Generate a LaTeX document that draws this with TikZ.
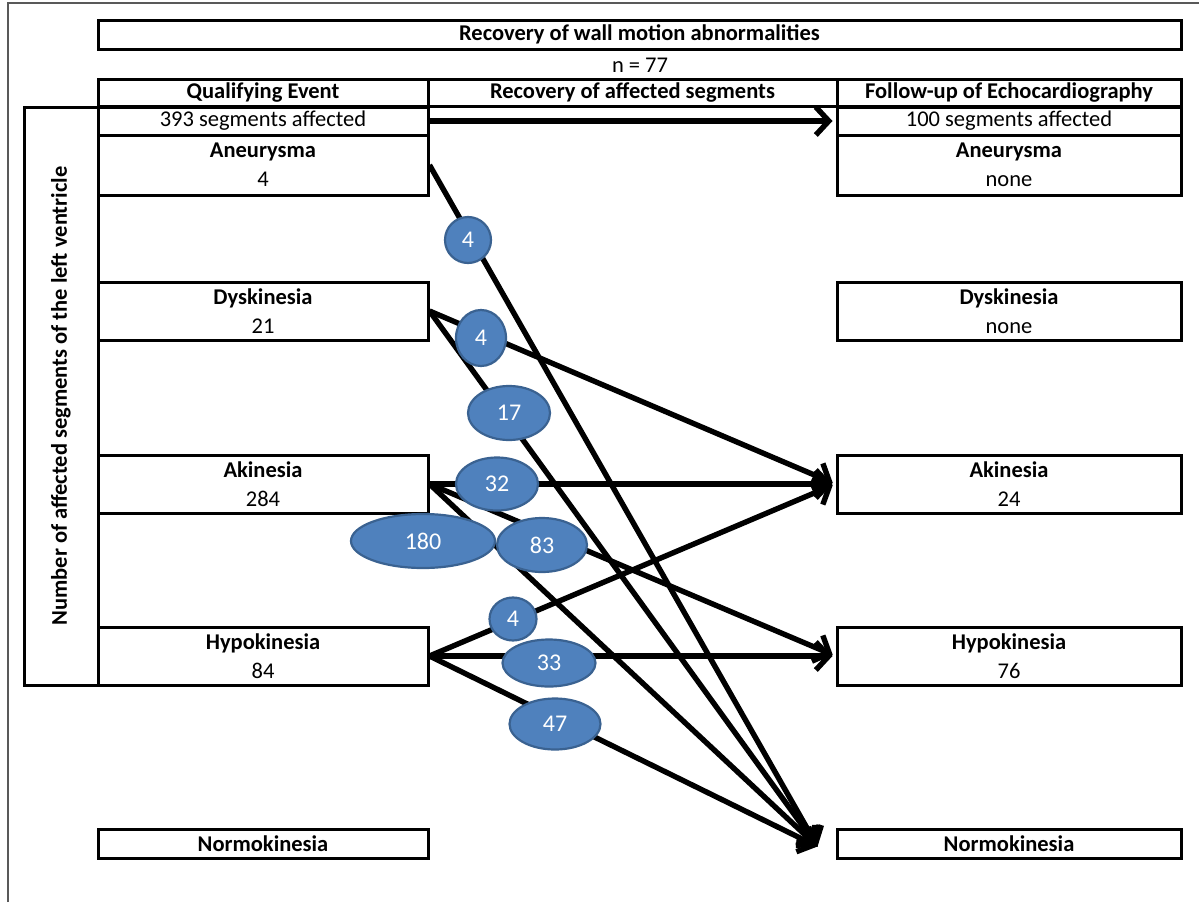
\documentclass[tikz,border=0pt]{standalone}
\usepackage{fontspec}
\setmainfont{Carlito}
\usetikzlibrary{arrows.meta,shapes.geometric,calc}
\definecolor{bub}{HTML}{4F81BD}
\definecolor{bubline}{HTML}{3A6291}
\begin{document}
\begin{tikzpicture}[x=1pt,y=-1pt,
  cell/.style={draw,line width=3pt,inner sep=0pt,align=center,
    font=\fontsize{22.5}{29}\selectfont},
  hcell/.style={cell,font=\bfseries\fontsize{22.5}{26}\selectfont},
  lcell/.style={cell,minimum width=330pt},
  rcell/.style={cell,minimum width=344pt},
  flow/.style={line width=5.4pt,-{Straight Barb[length=13pt,width=28pt]}},
  bubble/.style={ellipse,fill=bub,draw=bubline,line width=2.2pt,inner sep=0pt,
    text=white,font=\fontsize{24}{26}\selectfont}
]
\useasboundingbox (0,0) rectangle (1199,902);
\fill[white] (0,0) rectangle (1199,902);
\draw[gray!70!black,line width=1.2pt] (8,902) -- (8,3) -- (1199,3);

% header
\node[hcell,minimum width=1083pt,minimum height=29pt] (title) at (639.5,34.5) {Recovery of wall motion abnormalities};
\node[font=\fontsize{22.5}{26}\selectfont,inner sep=0pt] (n77) at (640,65) {n = 77};
\node[hcell,minimum width=330pt,minimum height=27pt] (hq) at (263,92.5) {Qualifying Event};
\node[hcell,minimum width=409pt,minimum height=27pt] (hr) at (632.5,92.5) {Recovery of affected segments};
\node[hcell,minimum width=344pt,minimum height=27pt] (hf) at (1009,92.5) {Follow-up of Echocardiography};

% side box
\node[cell,minimum width=74pt,minimum height=578pt] (side) at (61,396) {};
\node[rotate=90,font=\bfseries\fontsize{22.5}{26}\selectfont,inner sep=0pt] (sidetxt) at (61,396) {Number of affected segments of the left ventricle};

% left column
\node[lcell,minimum height=28pt] (l393) at (263,121) {393 segments affected};
\node[lcell,minimum height=60pt] (lan) at (263,165) {\textbf{Aneurysma}\\4};
\node[lcell,minimum height=58pt] (ldy) at (263,311) {\textbf{Dyskinesia}\\21};
\node[lcell,minimum height=58pt] (lak) at (263,484) {\textbf{Akinesia}\\284};
\node[lcell,minimum height=58pt] (lhy) at (263,656) {\textbf{Hypokinesia}\\84};
\node[lcell,minimum height=29pt] (lno) at (263,843.5) {\textbf{Normokinesia}};

% right column
\node[rcell,minimum height=28pt] (r100) at (1009,121) {100 segments affected};
\node[rcell,minimum height=60pt] (ran) at (1009,165) {\textbf{Aneurysma}\\none};
\node[rcell,minimum height=58pt] (rdy) at (1009,311) {\textbf{Dyskinesia}\\none};
\node[rcell,minimum height=58pt] (rak) at (1009,484) {\textbf{Akinesia}\\24};
\node[rcell,minimum height=58pt] (rhy) at (1009,656) {\textbf{Hypokinesia}\\76};
\node[rcell,minimum height=29pt] (rno) at (1009,843.5) {\textbf{Normokinesia}};

\coordinate (nk) at ($(rno.west)+(-18,3)$);

% connectors
\draw[flow,shorten >=3pt] (l393.east) -- (r100.west);
\draw[flow] (lan.east) -- (nk);
\draw[flow,shorten >=3pt] (ldy.east) -- (rak.west);
\draw[flow] (ldy.east) -- (nk);
\draw[flow,shorten >=3pt] (lak.east) -- (rak.west);
\draw[flow,shorten >=3pt] (lak.east) -- (rhy.west);
\draw[flow] (lak.east) -- (nk);
\draw[flow,shorten >=3pt] (lhy.east) -- (rak.west);
\draw[flow,shorten >=3pt] (lhy.east) -- (rhy.west);
\draw[flow] (lhy.east) -- (nk);

% counts
\node[bubble,minimum width=46pt,minimum height=46pt] (b1) at (468,240) {4};
\node[bubble,minimum width=50pt,minimum height=56pt] (b2) at (481,338) {4};
\node[bubble,minimum width=82pt,minimum height=54pt] (b3) at (509,413) {17};
\node[bubble,minimum width=82pt,minimum height=53pt] (b4) at (497,484) {32};
\node[bubble,minimum width=144pt,minimum height=54pt] (b5) at (423,541) {180};
\node[bubble,minimum width=90pt,minimum height=54pt] (b6) at (542,545) {83};
\node[bubble,minimum width=47pt,minimum height=43pt] (b7) at (513,619) {4};
\node[bubble,minimum width=93pt,minimum height=47pt] (b8) at (549,663) {33};
\node[bubble,minimum width=91pt,minimum height=51pt] (b9) at (555,724) {47};
\end{tikzpicture}
\end{document}
